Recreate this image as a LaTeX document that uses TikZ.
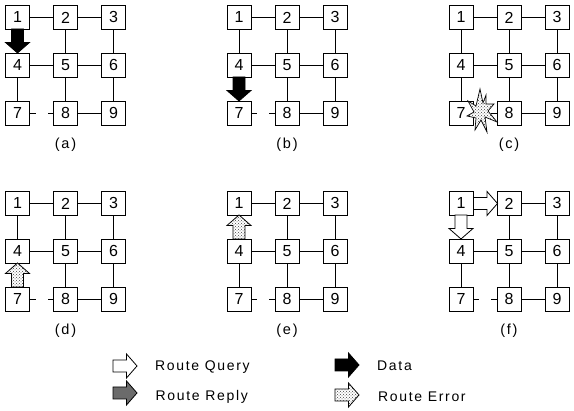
\documentclass[tikz,border=0pt]{standalone}
\usepackage{fontspec}
\setmainfont{Liberation Sans}
\newfontfamily\legendfont[LetterSpace=12]{Liberation Sans}
\usetikzlibrary{patterns}
\tikzset{
	router/.style={draw,line width=1pt,fill=white,minimum size=24pt,inner sep=0pt,font=\fontsize{16}{16}\selectfont},
	link/.style={line width=1pt},
	caption/.style={font=\fontsize{14.5}{15}\legendfont},
	legendtext/.style={anchor=west,inner sep=0pt,font=\fontsize{14}{15}\legendfont},
	query/.style={draw,line width=.8pt,fill=white},
	reply/.style={draw,line width=.8pt,fill=black!58},
	data/.style={draw,line width=.8pt,fill=black},
	rerror/.style={draw,line width=.8pt,fill=white,postaction={pattern=crosshatch dots,pattern color=black!75}},
}
% arrow of 24 long pointing along +x, rotated about its tail
\newcommand{\packet}[4]{
	\draw[#4,shift={(#1,#2)},rotate=#3] (0,-6) -- (13.5,-6) -- (13.5,-12) -- (24,0) -- (13.5,12) -- (13.5,6) -- (0,6) -- cycle;
}
% one grid of nine routers
\newcommand{\grid}[4]{
	\begin{scope}[shift={(#1,#2)}]
		\foreach \n/\x/\y in{1/0/0,2/48/0,3/96/0,4/0/-48,5/48/-48,6/96/-48,7/0/-96,8/48/-96,9/96/-96}{
		\node[router] (#3\n) at (\x,\y) {\n};
		}
		\foreach \a/\b in{1/2,2/3,4/5,5/6,8/9,1/4,2/5,3/6,4/7,5/8,6/9}{
		\draw[link] (#3\a) -- (#3\b);
		}
		\draw[link] (#37.east) -- ++(5.5,0);
		\draw[link] (#38.west) -- ++(-5.5,0);
		\node[caption] (#3c) at (48,-127) {(#4)};
	\end{scope}
}
\begin{document}
\begin{tikzpicture}[x=1pt,y=1pt,line join=miter]
	\useasboundingbox (0,0) rectangle (574,411);
	\grid{17.5}{393.5}{a}{a}
	\grid{239}{393.5}{b}{b}
	\grid{461}{393.5}{c}{c}
	\grid{17.5}{207.5}{d}{d}
	\grid{239}{207.5}{e}{e}
	\grid{461}{207.5}{f}{f}
	% packets
	\packet{17.5}{382}{-90}{data}
	\packet{239}{334}{-90}{data}
	\packet{17.5}{124}{90}{rerror}
	\packet{239}{172}{90}{rerror}
	\packet{473.5}{207.5}{0}{query}
	\packet{461}{196}{-90}{query}
	% broken link
	\begin{scope}[y=-1pt,yshift=411pt]
		\draw[rerror,line width=.7pt]
		(468,101) -- (476,106) -- (480,89) -- (483,103) -- (486,95) -- (486,104) -- (494,104) -- (488,111)
		-- (497,122) -- (485,117) -- (487,132) -- (481,120) -- (475,130) -- (476,118) -- (467,116) -- (474,112) -- cycle;
	\end{scope}
	% legend
	\packet{113}{45}{0}{query}
	\packet{113}{18}{0}{reply}
	\packet{335}{46}{0}{data}
	\packet{335}{16}{0}{rerror}
	\node[legendtext] (lq) at (155,43.5) {Route Query};
	\node[legendtext] (lr) at (155.5,14.5) {Route Reply};
	\node[legendtext] (ld) at (377,45) {Data};
	\node[legendtext] (le) at (378,14) {Route Error};
\end{tikzpicture}
\end{document}
